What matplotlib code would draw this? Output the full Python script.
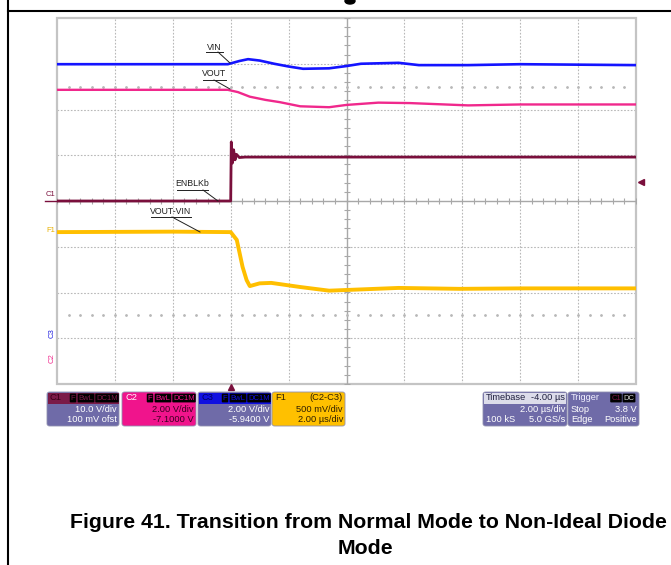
import matplotlib
matplotlib.use("Agg")
import matplotlib.pyplot as plt
from matplotlib.patches import FancyBboxPatch, Rectangle, Ellipse
from matplotlib.lines import Line2D
import numpy as np

plt.rcParams['font.family'] = ['Liberation Sans', 'DejaVu Sans']

# ---- data: time in microseconds (trigger at 0), amplitude in screen divisions ----
vin_t = [-6.0, -0.1, 0.3, 0.6, 1.0, 1.5, 2.0, 2.5, 3.4, 4.0, 4.5, 5.8, 6.5, 8.2, 10.0, 14.0]
vin_v = [2.99, 2.99, 3.06, 3.10, 3.07, 3.00, 2.94, 2.89, 2.90, 2.95, 3.00, 3.02, 2.97, 2.97, 2.99, 2.97]

vout_t = [-6.0, -0.1, 0.25, 0.66, 1.2, 1.7, 2.4, 3.4, 4.0, 5.1, 6.2, 8.2, 10.0, 14.0]
vout_v = [2.43, 2.43, 2.38, 2.28, 2.21, 2.16, 2.07, 2.05, 2.10, 2.15, 2.14, 2.09, 2.11, 2.11]

enb_t = [-6.0, 0.0, 0.02, 0.06, 0.10, 0.15, 0.20, 0.30, 0.50, 14.0]
enb_v = [0.0, 0.0, 1.29, 0.83, 1.12, 0.90, 1.02, 0.95, 0.96, 0.96]

diff_t = [-6.0, -2.0, 0.0, 0.21, 0.41, 0.55, 0.66, 1.0, 1.4, 2.4, 3.4, 5.8, 7.9, 10.0, 14.0]
diff_v = [-0.68, -0.67, -0.68, -0.85, -1.44, -1.73, -1.86, -1.80, -1.79, -1.88, -1.96, -1.90, -1.92, -1.91, -1.91]

trig_level = 0.41

W, H = 671, 565
fig = plt.figure(figsize=(W / 100, H / 100), dpi=100)


def fx(x):
    return x / W


def fy(y):
    return 1 - y / H


L, R, T, B = 57, 636, 18, 384
ax = fig.add_axes([fx(L), fy(B), (R - L) / W, (B - T) / H])
ax.set_xlim(-6, 14)
ax.set_ylim(-4, 4)
ax.axis('off')


def dt(x):
    return (x - L) / (R - L) * 20 - 6


def dv(y):
    return 4 - (y - T) / (B - T) * 8


gcol = '#b8b8b8'
for t in np.arange(-4, 14, 2):
    if t != 4:
        ax.axvline(t, color=gcol, lw=0.8, ls=(0, (1.5, 1.5)), zorder=1)
for v in np.arange(-3, 4, 1):
    if v != 0:
        ax.axhline(v, color=gcol, lw=0.8, ls=(0, (1.5, 1.5)), zorder=1)
ax.add_patch(Rectangle((-6, -4), 20, 8, fill=False, ec='#c4c4c4', lw=1.6, zorder=1, clip_on=False))
ax.axvline(4, color='#a8a8a8', lw=1.0, zorder=1)
ax.axhline(0, color='#a8a8a8', lw=1.0, zorder=1)
tt = np.arange(-6, 14.01, 0.4)
ax.plot(tt, np.zeros_like(tt), ls='none', marker='|', ms=4, mew=0.8, color='#a8a8a8', zorder=1)
vv = np.arange(-4, 4.01, 0.2)
ax.plot(np.full_like(vv, 4), vv, ls='none', marker='_', ms=4, mew=0.8, color='#a8a8a8', zorder=1)
for v in (2.5, -2.5):
    ax.plot(tt[1:-1], np.full(len(tt) - 2, v), ls='none', marker='o', ms=1.0, color='#b8b8b8', zorder=1)

# traces
ax.plot(enb_t, enb_v, color='#7a0f3c', lw=2.0, zorder=3)
ax.plot(vin_t, vin_v, color='#1414ff', lw=1.9, zorder=3)
ax.plot(vout_t, vout_v, color='#f0288c', lw=1.7, zorder=3)
ax.plot(diff_t, diff_v, color='#ffbf00', lw=2.8, zorder=3)

# trace labels with leader lines
def label(text, cx, cy, x0, x1, uy, lx0, ly0, lx1, ly1):
    ax.text(dt(cx), dv(cy), text, fontsize=6.3, ha='center', va='center', color='#202020', zorder=5)
    ax.plot([dt(x0), dt(x1)], [dv(uy), dv(uy)], color='#202020', lw=0.7, zorder=5)
    ax.plot([dt(lx0), dt(lx1)], [dv(ly0), dv(ly1)], color='#202020', lw=0.7, zorder=5)


label('VIN', 214, 47, 206, 223, 52, 218, 52, 230, 63)
label('VOUT', 214, 74, 203, 226, 80, 214, 80, 230, 89)
label('ENBLKb', 192, 184, 177, 208, 190, 203, 190, 218, 201)
label('VOUT-VIN', 171, 211, 151, 191, 217, 172, 217, 200, 232)

# channel markers on the left
ax.text(dt(51), dv(194), 'C1', fontsize=5.5, color='#7a0f3c', ha='center', va='center', clip_on=False)
ax.plot([dt(45), dt(57)], [dv(201), dv(201)], color='#7a0f3c', lw=1.0, clip_on=False)
ax.text(dt(51), dv(231), 'F1', fontsize=5.5, color='#e8b000', ha='center', va='center', clip_on=False)
ax.text(dt(52), dv(333), 'C3', fontsize=5.5, color='#2020e0', ha='center', va='center', rotation=90, clip_on=False)
ax.text(dt(52), dv(358), 'C2', fontsize=5.5, color='#f0288c', ha='center', va='center', rotation=90, clip_on=False)

# trigger markers
ax.plot([dt(641)], [trig_level], marker='<', ms=5, color='#7a0f3c', clip_on=False)
ax.plot([0], [dv(387)], marker='^', ms=5, color='#7a0f3c', clip_on=False)

# frame lines of the page
fig.add_artist(Line2D([fx(8), fx(8)], [0, 1], color='black', lw=1.5))
fig.add_artist(Line2D([fx(8), 1], [fy(11), fy(11)], color='black', lw=1.5))
fig.add_artist(Ellipse((fx(350), fy(1)), 10 / W, 6 / H, color='black'))

# info boxes
lav = '#6f6ba8'


def box(x0, x1, y0, y1, color):
    fig.add_artist(FancyBboxPatch((fx(x0), fy(y1)), (x1 - x0) / W, (y1 - y0) / H,
                                  boxstyle='round,pad=0,rounding_size=0.004', fc=color, ec='#9090b0', lw=0.6))


def rect(x0, x1, y0, y1, color):
    fig.add_artist(Rectangle((fx(x0), fy(y1)), (x1 - x0) / W, (y1 - y0) / H, fc=color, ec='none'))


def txt(x, y, s, color='white', ha='right', size=6.7, weight='normal', bg=None):
    kw = {}
    if bg is not None:
        kw['bbox'] = dict(boxstyle='round,pad=0.12', fc=bg, ec='none')
    fig.text(fx(x), fy(y), s, color=color, ha=ha, va='center', fontsize=size, fontweight=weight, **kw)


def tags(x, y, color):
    txt(x - 44, y, 'F', color=color, ha='center', size=5.5, bg='black')
    txt(x - 31, y, 'BwL', color=color, ha='center', size=5.5, bg='black')
    txt(x - 10, y, 'DC1M', color=color, ha='center', size=5.5, bg='black')


# C1
box(47, 119, 392, 426, lav)
rect(47.5, 118.5, 392.5, 404, '#7a1a48')
txt(50, 398, 'C1', color='#3a0018', ha='left')
tags(117, 398, '#7a1a48')
txt(117, 410, '10.0 V/div')
txt(117, 420, '100 mV ofst')
# C2
box(122, 196, 392, 426, '#f0148c')
txt(125, 398, 'C2', color='white', ha='left')
tags(194, 398, '#f0148c')
txt(194, 410, '2.00 V/div', color='#3a0020')
txt(194, 420, '-7.1000 V', color='#3a0020')
# C3
box(198, 271, 392, 426, lav)
rect(198.5, 270.5, 392.5, 404, '#1010e0')
txt(201, 398, 'C3', color='#000060', ha='left')
tags(269, 398, '#1010e0')
txt(269, 410, '2.00 V/div')
txt(269, 420, '-5.9400 V')
# F1
box(272, 345, 392, 426, '#ffc000')
txt(275, 398, 'F1', color='#302000', ha='left')
txt(343, 398, '(C2-C3)', color='#302000')
txt(343, 410, '500 mV/div', color='#302000')
txt(343, 420, '2.00 \u00b5s/div', color='#302000')
# Timebase
box(483, 567, 392, 426, lav)
rect(484, 566, 393, 403.5, '#dcdcea')
txt(486, 398, 'Timebase', color='#202040', ha='left')
txt(565, 398, '-4.00 \u00b5s', color='#202040')
txt(565, 410, '2.00 \u00b5s/div')
txt(486, 420, '100 kS', ha='left')
txt(565, 420, '5.0 GS/s')
# Trigger
box(568, 639, 392, 426, lav)
txt(571, 398, 'Trigger', ha='left', color='#f0f0ff')
txt(616, 398, 'C1', color='#7a1a48', ha='center', size=5.5, bg='black')
txt(629, 398, 'DC', color='#d0d0d0', ha='center', size=5.5, bg='black')
txt(571, 410, 'Stop', ha='left')
txt(637, 410, '3.8 V')
txt(571, 420, 'Edge', ha='left')
txt(637, 420, 'Positive')

# caption
fig.text(fx(368), fy(522), 'Figure 41. Transition from Normal Mode to Non-Ideal Diode',
         ha='center', va='center', fontsize=15.3, fontweight='bold', color='black')
fig.text(fx(365), fy(548), 'Mode', ha='center', va='center', fontsize=15.3, fontweight='bold', color='black')

fig.savefig('out.png', dpi=100)
